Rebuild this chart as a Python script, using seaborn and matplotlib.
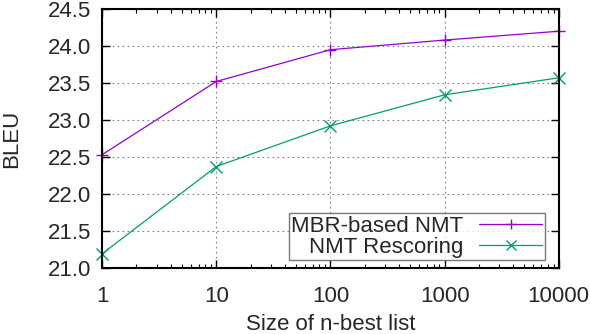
import numpy as np
import pandas as pd
import matplotlib
matplotlib.use("Agg")
import matplotlib.pyplot as plt
import matplotlib.ticker as mticker
import seaborn as sns

# data
nbest = [1, 10, 100, 1000, 10000]
mbr_bleu = [22.53, 23.52, 23.95, 24.08, 24.20]
rescore_bleu = [21.19, 22.37, 22.92, 23.34, 23.57]
series_names = ["MBR-based NMT", "NMT Rescoring"]
series_colors = ["#9400D3", "#009E73"]
series_markers = ["+", "x"]
x_ticks = [1, 10, 100, 1000, 10000]
y_ticks = [21.0, 21.5, 22.0, 22.5, 23.0, 23.5, 24.0, 24.5]

df = pd.DataFrame({
    "n": nbest * 2,
    "bleu": mbr_bleu + rescore_bleu,
    "system": [series_names[0]] * len(nbest) + [series_names[1]] * len(nbest),
})

sns.set_style("ticks")
plt.rcParams["font.family"] = ["Liberation Sans", "DejaVu Sans"]
plt.rcParams["font.size"] = 16

fig = plt.figure(figsize=(5.9, 3.34), dpi=100)
ax = fig.add_axes([0.173, 0.198, 0.774, 0.775])

sns.lineplot(data=df, x="n", y="bleu", hue="system", style="system",
             palette=series_colors, markers=series_markers, dashes=False,
             linewidth=0.9, markersize=8, ax=ax)
for line, c in zip(ax.get_lines(), series_colors):
    line.set_markeredgecolor(c)
    line.set_markeredgewidth(1.0)
    line.set_clip_on(False)

ax.set_xscale("log")
ax.set_xlim(1, 10000)
ax.set_ylim(21.0, 24.5)
ax.set_xticks(x_ticks)
ax.xaxis.set_major_formatter(mticker.FixedFormatter([str(t) for t in x_ticks]))
ax.xaxis.set_minor_locator(mticker.LogLocator(base=10, subs=np.arange(2, 10)))
ax.xaxis.set_minor_formatter(mticker.NullFormatter())
ax.set_yticks(y_ticks)
ax.yaxis.set_major_formatter(mticker.FormatStrFormatter("%.1f"))

ax.tick_params(which="both", direction="in", top=True, right=True,
               labelsize=16, color="black", pad=8)
ax.tick_params(which="major", length=6, width=1)
ax.tick_params(which="minor", length=3, width=0.8)
ax.tick_params(axis="x", which="major", pad=13)

for sp in ax.spines.values():
    sp.set_visible(True)
    sp.set_linewidth(1.5)
    sp.set_color("black")

ax.grid(True, which="major", linestyle=(0, (1.5, 3)), color="#808080", linewidth=0.8)

ax.set_xlabel("Size of n-best list", fontsize=16, labelpad=5)
ax.set_ylabel("BLEU", fontsize=16, labelpad=18)

handles, labels = ax.get_legend_handles_labels()
for h, c in zip(handles, series_colors):
    h.set_markeredgecolor(c)
    h.set_markeredgewidth(1.0)
    h.set_markersize(7)
leg = ax.legend(handles, labels, loc="lower right", markerfirst=False, fancybox=False,
                frameon=True, edgecolor="#555555", fontsize=16, handlelength=2.85,
                borderpad=0.1, labelspacing=0.0, handletextpad=0.7,
                borderaxespad=0.0, bbox_to_anchor=(0.969, 0.031))
leg.get_frame().set_linewidth(1.0)
leg._legend_box.align = "right"

fig.savefig("out.png", dpi=100)
